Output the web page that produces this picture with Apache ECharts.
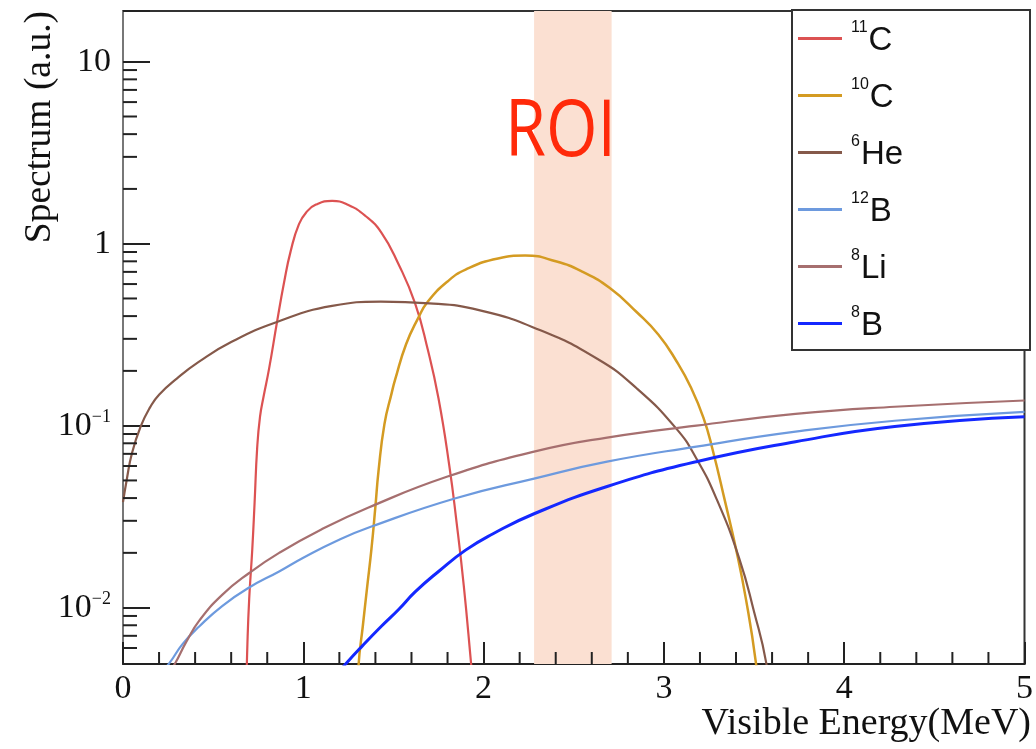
<!DOCTYPE html>
<html><head><meta charset="utf-8">
<script src="https://cdn.jsdelivr.net/npm/echarts@6/dist/echarts.min.js"></script>
<style>html,body{margin:0;padding:0;background:#fff}#chart{width:1036px;height:749px}</style>
</head><body><div id="chart"></div>
<script>
// ---------- data ----------
const seriesNames = ['¹¹C', '¹⁰C', '⁶He', '¹²B', '⁸Li', '⁸B'];
const massNumbers = ['11', '10', '6', '12', '8', '8'];
const elementSymbols = ['C', 'C', 'He', 'B', 'Li', 'B'];

const c11 = [[0.683,0.0032],[0.69,0.0063],[0.70,0.0112],[0.717,0.0209],[0.73,0.038],[0.744,0.075],[0.76,0.112],[0.78,0.145],[0.81,0.205],[0.854,0.37],[0.893,0.61],[0.93,0.91],[0.976,1.28],[1.02,1.50],[1.07,1.64],[1.16,1.72],[1.25,1.63],[1.345,1.42],[1.433,1.15],[1.527,0.776],[1.62,0.47],[1.69,0.263],[1.75,0.141],[1.81,0.06],[1.85,0.0295],[1.89,0.0132],[1.93,0.005],[1.95,0.003]];
const c10 = [[1.30,0.003],[1.307,0.0049],[1.33,0.0079],[1.355,0.0132],[1.378,0.021],[1.40,0.036],[1.417,0.056],[1.45,0.102],[1.49,0.151],[1.51,0.18],[1.57,0.28],[1.637,0.39],[1.69,0.48],[1.80,0.62],[1.90,0.72],[2.08,0.83],[2.23,0.86],[2.40,0.80],[2.55,0.70],[2.70,0.57],[2.85,0.42],[2.97,0.316],[3.07,0.226],[3.15,0.162],[3.22,0.110],[3.27,0.074],[3.34,0.038],[3.40,0.021],[3.456,0.011],[3.51,0.005],[3.53,0.003]];
const he6 = [[0.0,0.038],[0.02,0.050],[0.05,0.0708],[0.1,0.10],[0.15,0.126],[0.2,0.148],[0.3,0.182],[0.42,0.224],[0.6,0.288],[0.85,0.37],[1.16,0.455],[1.43,0.48],[1.7,0.47],[1.98,0.43],[2.3,0.339],[2.63,0.233],[2.85,0.16],[3.07,0.096],[3.18,0.066],[3.29,0.040],[3.418,0.0186],[3.5,0.0095],[3.567,0.005],[3.59,0.003]];
const b12 = [[0.18,0.0040],[0.26,0.0050],[0.33,0.0063],[0.424,0.0079],[0.55,0.0102],[0.70,0.0129],[0.866,0.0158],[1.0,0.0188],[1.19,0.0234],[1.378,0.0279],[1.84,0.0398],[2.28,0.0512],[2.685,0.0634],[3.18,0.0767],[3.73,0.0927],[4.28,0.1064],[5.0,0.119]];
const li8 = [[0.2,0.0036],[0.287,0.0049],[0.35,0.00646],[0.424,0.00851],[0.55,0.01175],[0.70,0.0155],[0.866,0.020],[1.10,0.0269],[1.362,0.0355],[1.80,0.0525],[2.28,0.072],[2.685,0.086],[3.18,0.100],[3.73,0.116],[4.28,0.127],[5.0,0.1375]];
const b8 = [[1.15,0.0039],[1.235,0.0049],[1.33,0.0062],[1.433,0.0079],[1.53,0.0098],[1.62,0.0122],[1.75,0.0158],[1.90,0.0207],[2.05,0.0254],[2.28,0.0328],[2.685,0.0463],[3.18,0.0634],[3.73,0.0816],[4.28,0.099],[5.0,0.112]];

const roiRange = [2.28, 2.71];
const roiLabel = 'ROI';
const xRange = [0, 5];
const xMinorTicks = [0.2,0.4,0.6,0.8,1.2,1.4,1.6,1.8,2.2,2.4,2.6,2.8,3.2,3.4,3.6,3.8,4.2,4.4,4.6,4.8];
const yRange = [0.0049, 19];
const yMajorTicks = [0.01, 0.1, 1, 10];
const yMajorLabels = ['{b|10}{s|−2}', '{b|10}{s|−1}', '{b|1}', '{b|10}'];
const yMinorTicks = [0.006,0.007,0.008,0.009,0.02,0.03,0.04,0.05,0.06,0.07,0.08,0.09,0.2,0.3,0.4,0.5,0.6,0.7,0.8,0.9,2,3,4,5,6,7,8,9];
const xTitle = 'Visible Energy(MeV)';
const yTitle = 'Spectrum (a.u.)';

// ---------- styles ----------
const curves = [c11, c10, he6, b12, li8, b8];
const colors = ['#dc5252', '#d49b22', '#85594a', '#6d9ade', '#a66f6f', '#1428ff'];
const widths = [2.2, 2.5, 2.2, 2.2, 2.2, 3];
const SERIF = '"Liberation Serif", "DejaVu Serif", serif';
const SANS = '"Liberation Sans", Arial, sans-serif';

const chart = echarts.init(document.getElementById('chart'));

function tickSeries(data, dx, dy) {
  return {
    type: 'custom', silent: true, z: 6, clip: false, data: data,
    renderItem: function (params, api) {
      const p = api.coord([api.value(0), api.value(1)]);
      return { type: 'line', shape: { x1: p[0], y1: p[1], x2: p[0] + dx, y2: p[1] + dy },
               style: { stroke: '#222', lineWidth: 2 } };
    }
  };
}

const lineSeries = curves.map((d, i) => ({
  name: seriesNames[i], type: 'line', data: d, symbol: 'none', showSymbol: false, z: 3,
  smooth: 0.5,
  lineStyle: { color: colors[i], width: widths[i] },
  itemStyle: { color: colors[i] }
}));

const option = {
  animation: false,
  backgroundColor: '#fff',
  grid: { left: 123, right: 6, top: 11, bottom: 85, show: true, borderColor: '#333', borderWidth: 2, backgroundColor: 'transparent' },
  xAxis: {
    type: 'value', min: xRange[0], max: xRange[1], interval: 1,
    axisLine: { show: true, lineStyle: { color: '#222', width: 2 } },
    axisTick: { show: true, inside: true, length: 22, lineStyle: { color: '#222', width: 2 } },
    axisLabel: { margin: 8, fontFamily: SERIF, fontSize: 34, color: '#111' },
    splitLine: { show: false }
  },
  yAxis: {
    type: 'log', logBase: 10, min: yRange[0], max: yRange[1],
    axisLine: { show: true, lineStyle: { color: '#777', width: 2 } },
    axisTick: { show: true, inside: true, length: 27, lineStyle: { color: '#222', width: 2 } },
    axisLabel: {
      margin: 12, color: '#111',
      formatter: function (v) {
        for (let i = 0; i < yMajorTicks.length; i++) {
          if (Math.abs(Math.log10(v) - Math.log10(yMajorTicks[i])) < 1e-6) return yMajorLabels[i];
        }
        return '';
      },
      rich: {
        b: { fontFamily: SERIF, fontSize: 34, lineHeight: 34, verticalAlign: 'bottom', color: '#111' },
        s: { fontFamily: SERIF, fontSize: 18, lineHeight: 18, padding: [0, 0, 22, 0], verticalAlign: 'top', color: '#111' }
      }
    },
    splitLine: { show: false }
  },
  legend: {
    data: seriesNames, orient: 'vertical', left: 798, top: 20, itemGap: 20,
    icon: 'rect', itemWidth: 44, itemHeight: 3, padding: 0, z: 5,
    formatter: function (name) {
      const i = seriesNames.indexOf(name);
      return '{s|' + massNumbers[i] + '}{b|' + elementSymbols[i] + '}';
    },
    textStyle: {
      color: '#111',
      rich: {
        s: { fontFamily: SANS, fontSize: 16, lineHeight: 16, padding: [0, 1, 21, 4], verticalAlign: 'top', color: '#111' },
        b: { fontFamily: SANS, fontSize: 33, lineHeight: 37, verticalAlign: 'bottom', color: '#111' }
      }
    }
  },
  graphic: [
    { type: 'rect', z: 3, shape: { x: 792, y: 10, width: 238, height: 340 },
      style: { fill: '#fff', stroke: '#333', lineWidth: 2 } },
    { type: 'text', z: 4, x: 505, y: 133.5, scaleX: 0.85,
      style: { text: roiLabel, font: '78px "Open Sans", "Noto Sans", sans-serif', fill: '#ff2a0a', textAlign: 'left', textVerticalAlign: 'middle' } },
    { type: 'text', z: 4, x: 1031, y: 724,
      style: { text: xTitle, font: '38px ' + SERIF, fill: '#111', textAlign: 'right', textVerticalAlign: 'middle' } },
    { type: 'text', z: 4, x: 40, y: 11, rotation: Math.PI / 2,
      style: { text: yTitle, font: '37.5px ' + SERIF, fill: '#111', textAlign: 'right', textVerticalAlign: 'middle' } }
  ],
  series: [
    { name: 'ROI', type: 'line', data: [], z: 0, silent: true,
      markArea: { silent: true, itemStyle: { color: '#fbe0d2' },
                  data: [[{ xAxis: roiRange[0] }, { xAxis: roiRange[1] }]] } }
  ].concat(lineSeries).concat([
    tickSeries(xMinorTicks.map(v => [v, yRange[0]]), 0, -12),
    tickSeries(yMinorTicks.map(v => [xRange[0], v]), 14, 0)
  ])
};
chart.setOption(option);
</script>
</body></html>
